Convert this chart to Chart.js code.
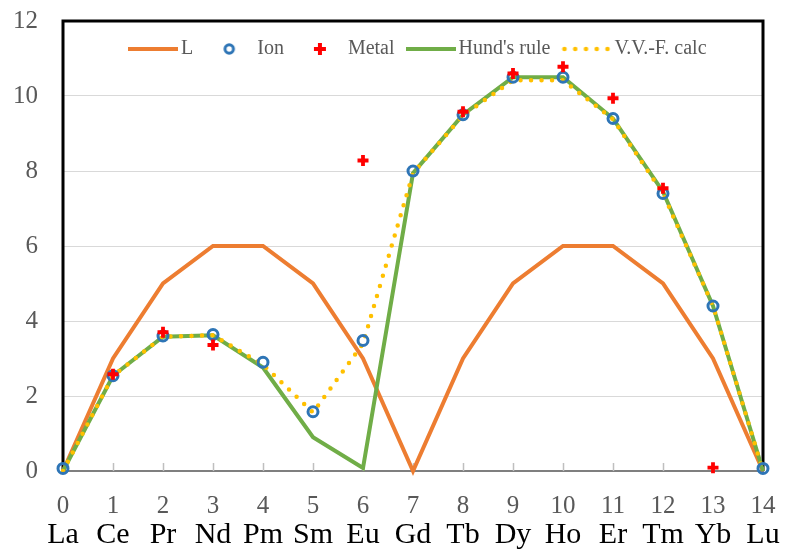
<!DOCTYPE html>
<html>
<head>
<meta charset="utf-8">
<script src="https://cdn.jsdelivr.net/npm/chart.js@4.4.1/dist/chart.umd.min.js"></script>
<style>
  html, body { margin: 0; padding: 0; background: #ffffff; }
  #wrap { width: 789px; height: 550px; position: relative; }
</style>
</head>
<body>
<div id="wrap"><canvas id="c"></canvas></div>
<script>
// ---- data ----
const elements = ['La','Ce','Pr','Nd','Pm','Sm','Eu','Gd','Tb','Dy','Ho','Er','Tm','Yb','Lu'];
const fNumbers = [0,1,2,3,4,5,6,7,8,9,10,11,12,13,14];
const seriesL     = [0, 3, 5, 6, 6, 5, 3, 0, 3, 5, 6, 6, 5, 3, 0];
const seriesIon   = [0.07, 2.54, 3.6, 3.64, 2.9, 1.58, 3.48, 8.0, 9.5, 10.5, 10.5, 9.4, 7.4, 4.4, 0.07];
const seriesMetal = [null, 2.58, 3.7, 3.36, null, null, 8.28, null, 9.58, 10.6, 10.78, 9.94, 7.54, 0.09, null];
const seriesHund  = [0, 2.54, 3.58, 3.62, 2.76, 0.9, 0.08, 7.94, 9.5, 10.5, 10.5, 9.4, 7.45, 4.4, 0];
const seriesVV    = [0, 2.54, 3.58, 3.62, 2.84, 1.56, 3.4, 7.94, 9.48, 10.42, 10.42, 9.38, 7.4, 4.4, 0];
const yTicks = [0, 2, 4, 6, 8, 10, 12];

const toPts = arr => fNumbers.map((f, i) => ({ x: f, y: arr[i] }));
const SERIF = "'Liberation Serif', 'Times New Roman', serif";
const GRAY_TXT = '#595959';
const C_L = '#ED7D31', C_ION = '#2E75B6', C_METAL = '#FF0000', C_HUND = '#70AD47', C_VV = '#FFC000';

// legend symbols, 50 px wide like the reference's legend keys
function makeSymbol(kind, color) {
  const cv = document.createElement('canvas');
  cv.width = 50; cv.height = 14;
  const g = cv.getContext('2d');
  if (kind === 'line') {
    g.strokeStyle = color; g.lineWidth = 4;
    g.beginPath(); g.moveTo(0, 7); g.lineTo(50, 7); g.stroke();
  } else if (kind === 'dots') {
    g.fillStyle = color;
    for (let k = 0; k < 5; k++) { g.beginPath(); g.arc(3 + k * 10.75, 7, 2.3, 0, Math.PI * 2); g.fill(); }
  } else if (kind === 'ring') {
    g.strokeStyle = color; g.lineWidth = 3;
    g.beginPath(); g.arc(25, 7, 4.2, 0, Math.PI * 2); g.stroke();
  } else {
    g.strokeStyle = color; g.lineWidth = 4;
    g.beginPath(); g.moveTo(25, 1); g.lineTo(25, 13); g.moveTo(19, 7); g.lineTo(31, 7); g.stroke();
  }
  return cv;
}

// plot frame (black top/left/right) and small inward x tick marks
const framePlugin = {
  id: 'frame',
  beforeDatasetsDraw(chart) {
    const { ctx, chartArea: { left, top, right, bottom }, scales: { x } } = chart;
    ctx.save();
    ctx.strokeStyle = '#bfbfbf';
    ctx.lineWidth = 1.5;
    x.ticks.forEach(t => {
      if (t.value === 0 || t.value === 14) return;
      const px = Math.round(x.getPixelForValue(t.value)) + 0.5;
      ctx.beginPath(); ctx.moveTo(px, bottom); ctx.lineTo(px, bottom - 8); ctx.stroke();
    });
    ctx.strokeStyle = '#000000';
    ctx.lineWidth = 3;
    ctx.beginPath();
    ctx.moveTo(left, bottom); ctx.lineTo(left, top); ctx.lineTo(right, top); ctx.lineTo(right, bottom);
    ctx.stroke();
    ctx.restore();
  }
};

// legend drawn horizontally inside the plot area, taking no layout space
const legendInside = {
  id: 'legendInside',
  beforeLayout(chart) {
    const lg = chart.legend;
    if (lg && !lg._wrappedFit) {
      const orig = lg.fit.bind(lg);
      lg.fit = function () { orig(); this._realH = this.height; this.height = 0; };
      lg._wrappedFit = true;
    }
  },
  afterLayout(chart) {
    const lg = chart.legend;
    if (!lg) return;
    const ca = chart.chartArea;
    lg.left = ca.left + 54;
    lg.right = ca.right;
    lg.width = lg.right - lg.left;
    lg.top = ca.top;
    lg.height = lg._realH || 40;
    lg.bottom = lg.top + lg.height;
  }
};

const zeroPad = axis => { axis.paddingTop = 0; axis.paddingBottom = 0; axis.paddingLeft = 0; axis.paddingRight = 0; };

const datasets = [
  { label: 'L', data: toPts(seriesL), borderColor: C_L, backgroundColor: C_L,
    borderWidth: 4, pointRadius: 0, tension: 0, order: 4, legendSym: makeSymbol('line', C_L) },
  { label: 'Ion', data: toPts(seriesIon), showLine: false, pointStyle: 'circle',
    pointRadius: 5, pointBorderWidth: 3, pointBorderColor: C_ION,
    pointBackgroundColor: 'rgba(0,0,0,0)', borderColor: C_ION, backgroundColor: 'rgba(0,0,0,0)', order: 1,
    legendSym: makeSymbol('ring', C_ION) },
  { label: 'Metal', data: toPts(seriesMetal), showLine: false, pointStyle: 'cross',
    pointRadius: 5.5, pointBorderWidth: 3.8, pointBorderColor: C_METAL,
    borderColor: C_METAL, backgroundColor: C_METAL, order: 0, legendSym: makeSymbol('cross', C_METAL) },
  { label: "Hund's rule", data: toPts(seriesHund), borderColor: C_HUND, backgroundColor: C_HUND,
    borderWidth: 4, pointRadius: 0, tension: 0, order: 3, legendSym: makeSymbol('line', C_HUND) },
  { label: 'V.V.-F. calc', data: toPts(seriesVV), borderColor: C_VV, backgroundColor: C_VV,
    borderWidth: 4.5, borderDash: [0, 10.5], borderCapStyle: 'round', pointRadius: 0, tension: 0, order: 2,
    legendSym: makeSymbol('dots', C_VV) }
];

new Chart(document.getElementById('c'), {
  type: 'line',
  data: { datasets },
  options: {
    responsive: true,
    maintainAspectRatio: false,
    animation: false,
    clip: false,
    layout: { padding: { left: 13, right: 26, top: 21, bottom: 0 } },
    plugins: {
      tooltip: { enabled: false },
      legend: {
        position: 'top',
        align: 'start',
        labels: {
          usePointStyle: true,
          pointStyleWidth: 36,
          boxHeight: 6.5,
          padding: 18,
          color: GRAY_TXT,
          font: { family: SERIF, size: 20 },
          generateLabels(chart) {
            return chart.data.datasets.map((ds, i) => ({
              text: ds.label,
              datasetIndex: i,
              fontColor: GRAY_TXT,
              hidden: false,
              pointStyle: ds.legendSym,
              fillStyle: ds.borderColor,
              strokeStyle: ds.borderColor,
              lineWidth: 0
            }));
          }
        }
      }
    },
    scales: {
      x: {
        type: 'linear', position: 'bottom', min: 0, max: 14, weight: 0,
        grid: { display: false, drawTicks: false },
        border: { display: true, color: '#7f7f7f', width: 2 },
        afterFit: axis => { axis.height = 49; zeroPad(axis); },
        ticks: { stepSize: 1, autoSkip: false, maxRotation: 0, padding: 20,
                 color: GRAY_TXT, font: { family: SERIF, size: 25, lineHeight: 1.2 } }
      },
      x2: {
        type: 'linear', position: 'bottom', min: 0, max: 14, weight: 1, display: true,
        grid: { display: false, drawTicks: false },
        border: { display: false },
        afterFit: axis => { axis.height = 30; zeroPad(axis); },
        ticks: { stepSize: 1, autoSkip: false, maxRotation: 0, padding: 0,
                 color: '#000000', font: { family: SERIF, size: 30, lineHeight: 1 },
                 callback: v => elements[v] }
      },
      y: {
        type: 'linear', min: 0, max: 12,
        grid: { color: '#d9d9d9', lineWidth: 1, drawTicks: false },
        border: { display: false },
        afterBuildTicks: axis => { axis.ticks = yTicks.map(v => ({ value: v })); },
        afterFit: axis => { axis.width = 50; zeroPad(axis); },
        ticks: { padding: 25, color: GRAY_TXT, font: { family: SERIF, size: 25 } }
      }
    }
  },
  plugins: [framePlugin, legendInside]
});
</script>
</body>
</html>
